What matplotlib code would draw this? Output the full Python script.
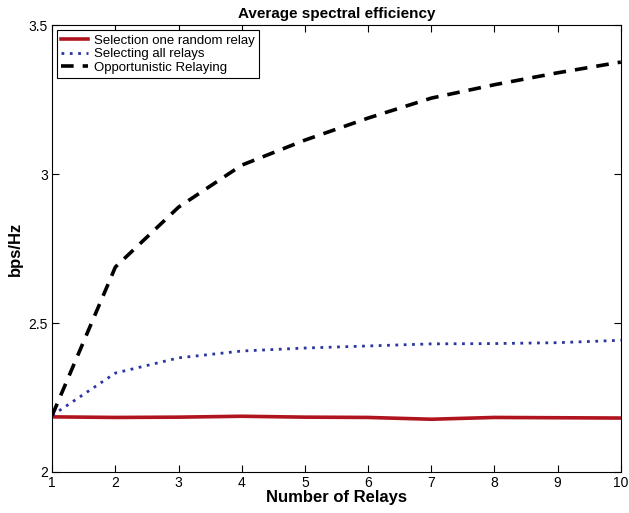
import matplotlib
matplotlib.use('Agg')
import matplotlib.pyplot as plt

plt.rcParams['font.family'] = ['Liberation Sans', 'DejaVu Sans']

relays = [1, 2, 3, 4, 5, 6, 7, 8, 9, 10]
random_relay = [2.185, 2.183, 2.184, 2.187, 2.184, 2.183, 2.177, 2.183, 2.182, 2.181]
all_relays = [2.19, 2.332, 2.383, 2.406, 2.416, 2.423, 2.43, 2.431, 2.434, 2.442]
opportunistic = [2.19, 2.688, 2.889, 3.03, 3.114, 3.188, 3.255, 3.30, 3.34, 3.376]

fig = plt.figure(figsize=(6.29, 5.13), dpi=100)
ax = fig.add_axes([0.083, 0.08, 0.904, 0.871])

ax.plot(relays, random_relay, color='#b0141e', lw=2.6, label='Selection one random relay')
ax.plot(relays, all_relays, color='#2a35a0', lw=2, ls=(0, (1, 2)), label='Selecting all relays')
ax.plot(relays, opportunistic, color='black', lw=2.6, ls=(0, (3.5, 2.5)), label='Opportunistic Relaying')

ax.set_xlim(1, 10)
ax.set_ylim(2, 3.5)
ax.set_xticks(relays)
ax.set_yticks([2, 2.5, 3, 3.5])
ax.set_yticklabels(['2', '2.5', '3', '3.5'])
ax.tick_params(direction='in', top=True, right=True, labelsize=10, length=5, pad=3)

ax.set_title('Average spectral efficiency', fontsize=11, fontweight='bold', pad=5)
ax.set_xlabel('Number of Relays', fontsize=12, fontweight='bold', labelpad=0)
ax.set_ylabel('bps/Hz', fontsize=12, fontweight='bold', labelpad=4)

leg = ax.legend(loc='upper left', fontsize=9.5, fancybox=False, edgecolor='black',
                framealpha=1, borderpad=0.3, labelspacing=0.1, handlelength=2.0,
                handletextpad=0.5, borderaxespad=0.4)
leg.get_frame().set_linewidth(0.8)

fig.savefig('out.png', dpi=100)
